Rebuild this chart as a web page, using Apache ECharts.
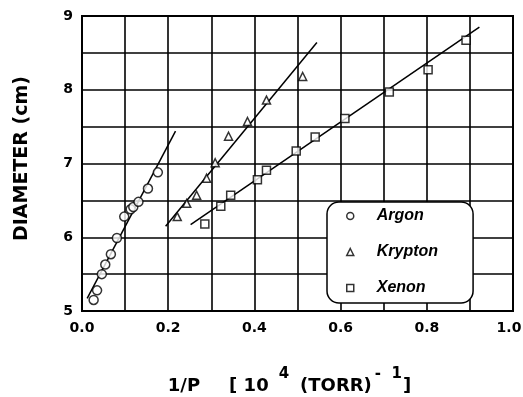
<!DOCTYPE html>
<html>
<head>
<meta charset="utf-8">
<script src="https://cdn.jsdelivr.net/npm/echarts@6.0.0/dist/echarts.min.js"></script>
<style>
  html, body { margin: 0; padding: 0; background: #fff; }
  #chart { width: 523px; height: 397px; }
</style>
</head>
<body>
<div id="chart"></div>
<script>
// 读图得到的数据
const argonX = [0.027, 0.035, 0.046, 0.054, 0.067, 0.081, 0.098, 0.113, 0.119, 0.131, 0.153, 0.176]
const argonY = [5.15, 5.28, 5.50, 5.63, 5.77, 5.99, 6.28, 6.38, 6.41, 6.48, 6.66, 6.88]
const kryptonX = [0.221, 0.243, 0.266, 0.289, 0.309, 0.340, 0.384, 0.428, 0.512]
const kryptonY = [6.28, 6.46, 6.57, 6.80, 7.01, 7.37, 7.57, 7.86, 8.18]
const xenonX = [0.285, 0.322, 0.345, 0.407, 0.428, 0.497, 0.541, 0.610, 0.713, 0.803, 0.891]
const xenonY = [6.18, 6.42, 6.57, 6.78, 6.91, 7.17, 7.36, 7.61, 7.97, 8.27, 8.67]

// 拟合直线的两个端点
const argonFit = [[0.012, 5.17], [0.217, 7.44]]
const kryptonFit = [[0.194, 6.15], [0.545, 8.64]]
const xenonFit = [[0.252, 6.17], [0.922, 8.85]]

const xTicks = ['0.0', '0.2', '0.4', '0.6', '0.8', '1.0']
const yTicks = ['5', '6', '7', '8', '9']

const pairs = (xs, ys) => xs.map((x, i) => [x, ys[i]])

const font = 'DejaVu Sans'
const markStyle = { color: '#fff', borderColor: '#000', borderWidth: 1.5 }

const fitLine = (data) => ({
  type: 'line',
  data: data,
  showSymbol: false,
  silent: true,
  lineStyle: { color: '#000', width: 1.5 },
  z: 2
})

const chart = echarts.init(document.getElementById('chart'))

const option = {
  animation: false,
  grid: {
    left: 82,
    right: 10,
    top: 16,
    bottom: 86,
    outerBoundsMode: 'none',
    show: true,
    borderColor: '#000',
    borderWidth: 2
  },
  legend: {
    orient: 'vertical',
    left: 327,
    top: 202,
    padding: [6, 35, 7, 19],
    itemGap: 20,
    itemWidth: 7,
    itemHeight: 7,
    backgroundColor: '#fff',
    borderColor: '#000',
    borderWidth: 1.5,
    borderRadius: 12,
    textStyle: {
      fontFamily: 'Liberation Sans',
      fontStyle: 'italic',
      fontWeight: 'bold',
      fontSize: 16,
      lineHeight: 16,
      color: '#000',
      padding: [0, 0, 0, 18]
    },
    data: [
      { name: 'Argon', icon: 'circle', itemStyle: markStyle },
      { name: 'Krypton', icon: 'triangle', itemStyle: markStyle },
      { name: 'Xenon', icon: 'rect', itemStyle: markStyle }
    ]
  },
  xAxis: {
    type: 'value',
    min: 0,
    max: 1,
    interval: 0.1,
    axisLine: { lineStyle: { color: '#000', width: 2 } },
    axisTick: { show: false },
    splitLine: { lineStyle: { color: '#000', width: 1.6 } },
    axisLabel: {
      margin: 10,
      color: '#000',
      fontFamily: font,
      fontWeight: 'bold',
      fontSize: 14,
      formatter: (v) => {
        const k = Math.round(v * 10)
        if (k % 2 !== 0) return ''
        // 最右边的标签稍微往左挪
        return k === 10 ? '{r|' + xTicks[k / 2] + '}' : xTicks[k / 2]
      },
      rich: {
        r: { fontFamily: font, fontWeight: 'bold', fontSize: 14, color: '#000', padding: [0, 8, 0, 0] }
      }
    },
    name: '{m|1/P}{g|}{m|[ 10}{s|4}{t|(TORR)}{u|-  1}{e|]}',
    nameLocation: 'middle',
    nameGap: 66,
    nameTextStyle: {
      rich: {
        m: { fontFamily: font, fontWeight: 'bold', fontSize: 18, color: '#000', lineHeight: 18, verticalAlign: 'bottom' },
        t: { fontFamily: font, fontWeight: 'bold', fontSize: 18, color: '#000', lineHeight: 18, verticalAlign: 'bottom', padding: [0, 0, 0, 11] },
        e: { fontFamily: font, fontWeight: 'bold', fontSize: 18, color: '#000', lineHeight: 18, verticalAlign: 'bottom', padding: [0, 16, 0, 0] },
        s: { fontFamily: font, fontWeight: 'bold', fontSize: 15, color: '#000', lineHeight: 15, padding: [0, 0, 13, 10], verticalAlign: 'bottom' },
        u: { fontFamily: font, fontWeight: 'bold', fontSize: 15, color: '#000', lineHeight: 15, padding: [0, 1, 13, 3], verticalAlign: 'bottom' },
        g: { width: 29 }
      }
    }
  },
  yAxis: {
    type: 'value',
    min: 5,
    max: 9,
    interval: 0.5,
    axisLine: { show: true, lineStyle: { color: '#000', width: 2 } },
    axisTick: { show: false },
    splitLine: { lineStyle: { color: '#000', width: 1.6 } },
    axisLabel: {
      margin: 9,
      color: '#000',
      fontFamily: font,
      fontWeight: 'bold',
      fontSize: 14,
      formatter: (v) => {
        const k = Math.round(v * 2)
        return k % 2 === 0 ? yTicks[k / 2 - 5] : ''
      }
    },
    name: 'DIAMETER (cm)',
    nameLocation: 'middle',
    nameGap: 50,
    nameTextStyle: {
      fontFamily: font,
      fontWeight: 'bold',
      fontSize: 19,
      color: '#000',
      padding: [0, 0, 0, 10]
    }
  },
  series: [
    fitLine(argonFit),
    fitLine(kryptonFit),
    fitLine(xenonFit),
    {
      name: 'Argon',
      type: 'scatter',
      symbol: 'circle',
      symbolSize: 9,
      itemStyle: markStyle,
      data: pairs(argonX, argonY),
      z: 3
    },
    {
      name: 'Krypton',
      type: 'scatter',
      symbol: 'triangle',
      symbolSize: 8,
      itemStyle: markStyle,
      data: pairs(kryptonX, kryptonY),
      z: 3
    },
    {
      name: 'Xenon',
      type: 'scatter',
      symbol: 'rect',
      symbolSize: 8,
      itemStyle: markStyle,
      data: pairs(xenonX, xenonY),
      z: 3
    }
  ]
}

chart.setOption(option)
</script>
</body>
</html>
